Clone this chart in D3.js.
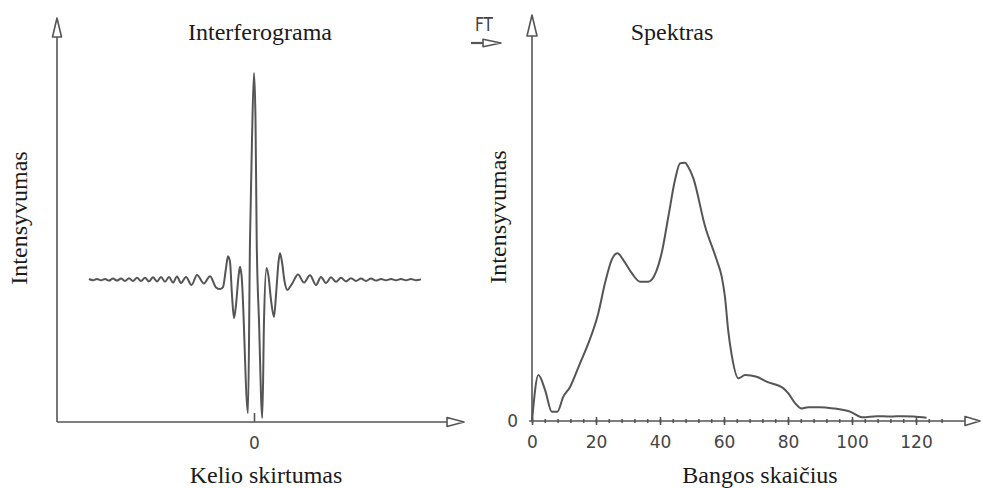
<!DOCTYPE html>
<html>
<head>
<meta charset="utf-8">
<script src="https://cdn.jsdelivr.net/npm/d3@7"></script>
<style>
  body { margin: 0; background: #fff; }
  svg { display: block; }
</style>
</head>
<body>
<script>
// Interferogram: path difference (arbitrary units, 0 = centre burst) and intensity (0-100)
const interfX = [
  -165, -161, -157, -153, -149, -145, -141, -137, -133, -129, -125, -121, -117, -113,
  -109, -105, -101, -97, -93, -89, -85, -81, -77, -73, -68, -62.5, -57, -50, -44, -38,
  -34, -31, -28, -26, -24, -22, -20, -18, -15.5, -14, -12.5, -6, -4, -2, 0, 1.5, 2.7,
  5, 8.3, 10, 12.5, 14.5, 17, 20, 22, 24.5, 26, 28, 30.5, 33.3, 38, 44, 50, 56, 62,
  67, 72, 77, 82, 87, 92, 97, 102, 107, 112, 117, 122, 127, 132, 137, 142, 147, 152,
  157, 162, 167
];
const interfY = [
  35.4, 35.1, 35.4, 35.1, 35.4, 35.0, 35.5, 35.0, 35.5, 34.9, 35.6, 34.9, 35.7, 34.9,
  35.7, 34.8, 35.8, 34.8, 35.9, 34.7, 35.9, 34.5, 36.0, 34.4, 35.9, 33.9, 36.4, 34.3, 36.1, 33.3,
  32.9, 33.4, 38.1, 41.0, 39.6, 31.4, 25.7, 29.0, 36.0, 38.4, 36.4, 2.2, 45.0, 70.0, 86.4, 75.0, 45.0,
  25.0, 1.0, 25.0, 38.1, 36.1, 30.2, 26.0, 31.4, 39.6, 41.8, 39.6, 34.9, 32.7, 34.2, 36.5, 34.5, 36.3, 33.9,
  35.9, 34.4, 35.8, 34.7, 35.7, 34.8, 35.6, 34.9, 35.5, 34.9, 35.5, 35.0, 35.4, 35.1, 35.4, 35.1, 35.4, 35.1,
  35.4, 35.1, 35.3
];

// Spectrum: wavenumber and intensity (0-100)
const specX = [
  0, 2.0, 4.1, 6.2, 7.9, 9.8, 11.9, 15.0, 17.6, 20.7, 22.8, 24.9, 26.7, 28.5, 31.2,
  33.8, 36.3, 38.8, 40.5, 42.6, 44.7, 46.3, 47.8, 48.8, 50.4, 54.1, 57.7, 59.3, 60.3,
  61.3, 62.4, 64.5, 66.6, 70.2, 73.3, 78.5, 80.1, 82.2, 84.3, 86.3, 90.0, 94.2, 99.4,
  103.5, 107.7, 111.9, 116.0, 119.2, 123.3
];
const specY = [
  0, 11.3, 7.6, 2.3, 2.3, 6.0, 8.4, 14.2, 19.1, 26.5, 33.9, 39.7, 41.3, 39.7, 36.4,
  34.3, 34.3, 36.8, 41.3, 50.3, 59.4, 63.5, 63.6, 62.6, 59.8, 47.9, 39.7, 35.5, 30.6,
  22.4, 16.3, 10.5, 11.3, 10.9, 9.7, 8.1, 6.8, 4.4, 3.1, 3.4, 3.4, 3.1, 2.3,
  0.9, 1.2, 1.1, 1.2, 1.1, 0.8
];

const specMajorTicks = [0, 20, 40, 60, 80, 100, 120];
const specMinorTicks = d3.range(0, 129, 4);
const interfTicks = [0];

const ink = "#555";
const textInk = "#1a1a1a";
const serif = "'Liberation Serif', 'Times New Roman', serif";
const sans = "'DejaVu Sans', sans-serif";

const svg = d3.select("body").append("svg")
  .attr("width", 983)
  .attr("height", 488);

// open triangle arrowheads used for all axes
function arrowUp(g, x, yTip, yBase, half) {
  g.append("polygon")
    .attr("points", `${x},${yTip} ${x - half},${yBase} ${x + half},${yBase}`)
    .attr("fill", "#fff").attr("stroke", ink).attr("stroke-width", 1.6)
    .attr("stroke-linejoin", "round");
}

function arrowRight(g, xTip, xBase, y, half) {
  g.append("polygon")
    .attr("points", `${xTip},${y} ${xBase},${y - half} ${xBase},${y + half}`)
    .attr("fill", "#fff").attr("stroke", ink).attr("stroke-width", 1.6)
    .attr("stroke-linejoin", "round");
}

// ---------- left panel: interferogram ----------
const xL = d3.scaleLinear().domain([-197, 210]).range([57, 464]);
const yL = d3.scaleLinear().domain([0, 100]).range([422, 18]);

const left = svg.append("g");

left.append("line")
  .attr("x1", xL.range()[0]).attr("x2", xL.range()[0])
  .attr("y1", yL(0)).attr("y2", yL(100) + 19)
  .attr("stroke", ink).attr("stroke-width", 1.6);
left.append("line")
  .attr("x1", xL.range()[0]).attr("x2", xL.range()[1] - 17)
  .attr("y1", yL(0)).attr("y2", yL(0))
  .attr("stroke", ink).attr("stroke-width", 1.6);
arrowUp(left, xL.range()[0], yL(100), yL(100) + 19, 4.5);
arrowRight(left, xL.range()[1], xL.range()[1] - 17, yL(0), 4.5);

const xAxisL = left.append("g")
  .attr("transform", `translate(0,${yL(0)})`)
  .call(d3.axisBottom(xL).tickValues(interfTicks).tickSize(-9).tickPadding(15));
xAxisL.select(".domain").remove();
xAxisL.selectAll(".tick line").attr("stroke", ink).attr("stroke-width", 1.6);
xAxisL.selectAll(".tick text")
  .attr("font-family", sans).attr("font-size", 17).attr("fill", "#444");

const lineL = d3.line()
  .x((d, i) => xL(interfX[i]))
  .y(d => yL(d))
  .curve(d3.curveMonotoneX);

left.append("path")
  .datum(interfY)
  .attr("d", lineL)
  .attr("fill", "none")
  .attr("stroke", ink)
  .attr("stroke-width", 2)
  .attr("stroke-linejoin", "round");

left.append("text")
  .attr("x", 260).attr("y", 40)
  .attr("text-anchor", "middle")
  .attr("font-family", serif).attr("font-size", 24).attr("fill", textInk)
  .text("Interferograma");

left.append("text")
  .attr("x", 266).attr("y", 483)
  .attr("text-anchor", "middle")
  .attr("font-family", serif).attr("font-size", 24).attr("fill", textInk)
  .text("Kelio skirtumas");

left.append("text")
  .attr("transform", "translate(27,218) rotate(-90)")
  .attr("text-anchor", "middle")
  .attr("font-family", serif).attr("font-size", 24).attr("fill", textInk)
  .text("Intensyvumas");

// ---------- FT arrow ----------
svg.append("text")
  .attr("x", 484).attr("y", 31)
  .attr("text-anchor", "middle")
  .attr("font-family", sans).attr("font-size", 19).attr("fill", "#444")
  .attr("textLength", 18).attr("lengthAdjust", "spacingAndGlyphs")
  .text("FT");
svg.append("line")
  .attr("x1", 471).attr("x2", 483).attr("y1", 43).attr("y2", 43)
  .attr("stroke", ink).attr("stroke-width", 2.2);
arrowRight(svg, 501, 483, 43, 3.8);

// ---------- right panel: spectrum ----------
const xR = d3.scaleLinear().domain([0, 140]).range([532, 980]);
const yR = d3.scaleLinear().domain([0, 100]).range([421, 15]);

const right = svg.append("g");

right.append("line")
  .attr("x1", xR(0)).attr("x2", xR(0))
  .attr("y1", yR(0)).attr("y2", yR(100) + 21)
  .attr("stroke", ink).attr("stroke-width", 1.6);
right.append("line")
  .attr("x1", xR(0) - 3).attr("x2", xR(140) - 15)
  .attr("y1", yR(0)).attr("y2", yR(0))
  .attr("stroke", ink).attr("stroke-width", 1.6);
arrowUp(right, xR(0), yR(100), yR(100) + 21, 5);
arrowRight(right, xR(140), xR(140) - 15, yR(0), 4.5);

const minorAxis = right.append("g")
  .attr("transform", `translate(0,${yR(0)})`)
  .call(d3.axisBottom(xR).tickValues(specMinorTicks).tickFormat("").tickSize(2));
minorAxis.select(".domain").remove();
minorAxis.selectAll(".tick line")
  .attr("y1", -2).attr("y2", 2)
  .attr("stroke", ink).attr("stroke-width", 1.6);

const majorAxis = right.append("g")
  .attr("transform", `translate(0,${yR(0)})`)
  .call(d3.axisBottom(xR).tickValues(specMajorTicks).tickSize(4).tickPadding(11));
majorAxis.select(".domain").remove();
majorAxis.selectAll(".tick line")
  .attr("y1", -4).attr("y2", 4)
  .attr("stroke", ink).attr("stroke-width", 1.6);
majorAxis.selectAll(".tick text")
  .attr("font-family", sans).attr("font-size", 17).attr("fill", "#444");

const yAxisR = right.append("g")
  .attr("transform", `translate(${xR(0)},0)`)
  .call(d3.axisLeft(yR).tickValues([0]).tickSize(0).tickPadding(14));
yAxisR.select(".domain").remove();
yAxisR.selectAll(".tick text")
  .attr("font-family", sans).attr("font-size", 17).attr("fill", "#444");

const lineR = d3.line()
  .x((d, i) => xR(specX[i]))
  .y(d => yR(d))
  .curve(d3.curveMonotoneX);

right.append("path")
  .datum(specY)
  .attr("d", lineR)
  .attr("fill", "none")
  .attr("stroke", ink)
  .attr("stroke-width", 2)
  .attr("stroke-linejoin", "round");

right.append("text")
  .attr("x", 672).attr("y", 40)
  .attr("text-anchor", "middle")
  .attr("font-family", serif).attr("font-size", 24).attr("fill", textInk)
  .text("Spektras");

right.append("text")
  .attr("x", 760).attr("y", 483)
  .attr("text-anchor", "middle")
  .attr("font-family", serif).attr("font-size", 24).attr("fill", textInk)
  .text("Bangos skaičius");

right.append("text")
  .attr("transform", "translate(506,217) rotate(-90)")
  .attr("text-anchor", "middle")
  .attr("font-family", serif).attr("font-size", 24).attr("fill", textInk)
  .text("Intensyvumas");
</script>
</body>
</html>
